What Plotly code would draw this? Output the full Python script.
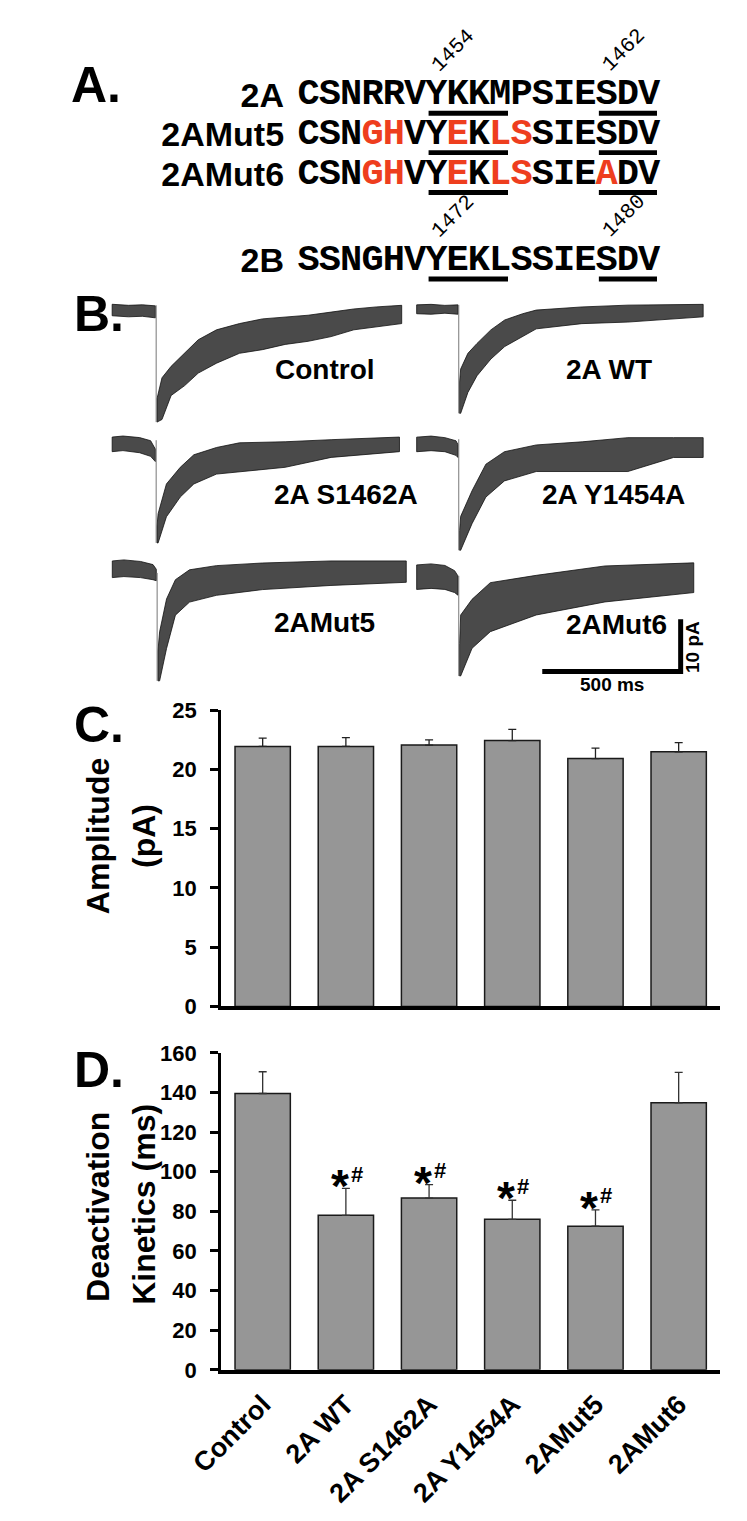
import plotly.graph_objects as go

# ---------------- data ----------------
categories = ["Control", "2A WT", "2A S1462A", "2A Y1454A", "2AMut5", "2AMut6"]
amp_mean = [21.95, 21.95, 22.07, 22.45, 20.93, 21.5]
amp_sem = [0.70, 0.75, 0.43, 0.95, 0.87, 0.78]
deact_mean = [139.5, 78.0, 86.7, 76.0, 72.5, 134.8]
deact_sem = [11.0, 13.6, 6.8, 9.6, 8.3, 15.4]
sig_star = ["", "*", "*", "*", "*", ""]
sig_hash = ["", "#", "#", "#", "#", ""]
amp_ticks = [0, 5, 10, 15, 20, 25]
deact_ticks = [0, 20, 40, 60, 80, 100, 120, 140, 160]

seq_names = ["2A", "2AMut5", "2AMut6", "2B"]
seq_text = ["CSNRRVYKKMPSIESDV", "CSNGHVYEKLSSIESDV", "CSNGHVYEKLSSIEADV", "SSNGHVYEKLSSIESDV"]
seq_mutated = [[], [3, 4, 7, 9, 10], [3, 4, 7, 9, 10, 14], []]
motif_spans = [(6, 10), (14, 17)]
residue_numbers = [["1454", "1462"], None, None, ["1472", "1480"]]
residue_index = [6, 14]

# current traces: envelope (upper/lower, pA) read at times (ms) relative to stimulus
trace_names = ["Control", "2A WT", "2A S1462A", "2A Y1454A", "2AMut5", "2AMut6"]
base_t = [
    [-159, -100, -50, -3],
    [-152, -100, -50, -3],
    [-159, -120, -60, -20, -3],
    [-152, -100, -50, -10, -3],
    [-162, -120, -60, -15, -3],
    [-152, -100, -50, -15, -3],
]
base_up = [
    [1.1, 0.9, 1.0, 0.8],
    [0.8, 0.9, 0.7, 0.8],
    [1.1, 1.3, 1.0, 0.4, -1.2],
    [0.9, 1.1, 0.8, 0.2, -0.5],
    [1.3, 1.5, 1.2, 0.6, -0.3],
    [1.1, 1.3, 1.0, 0.0, -1.0],
]
base_lo = [
    [-1.1, -1.3, -1.2, -1.5],
    [-0.9, -1.0, -0.8, -1.0],
    [-1.7, -1.5, -1.9, -2.6, -3.6],
    [-1.9, -1.7, -1.9, -2.6, -3.0],
    [-1.9, -1.7, -1.9, -2.3, -2.5],
    [-3.6, -3.4, -3.6, -4.2, -4.7],
]
decay_t = [
    [3, 21, 54, 103, 152, 218, 301, 384, 466, 549, 632, 714, 797, 887],
    [3, 7, 33, 66, 116, 166, 231, 280, 445, 611, 883],
    [3, 7, 37, 87, 136, 218, 301, 466, 632, 879],
    [3, 7, 48, 98, 165, 280, 446, 611, 776, 883],
    [3, 9, 34, 66, 117, 214, 380, 628, 900],
    [3, 7, 48, 114, 280, 528, 849],
]
decay_up = [
    [-17.0, -13.0, -10.8, -8.3, -5.7, -3.8, -2.6, -1.7, -1.3, -1.0, -0.4, 0.2, 0.6, 0.9],
    [-14.0, -11.5, -8.5, -6.6, -4.0, -2.1, -0.9, -0.2, 0.4, 0.75, 0.9],
    [-16.0, -13.6, -7.9, -4.7, -2.3, -0.9, 0.0, 0.2, 0.6, 1.1],
    [-17.0, -14.3, -9.4, -4.3, -1.9, -0.6, 0.0, 0.8, 0.8, 0.8],
    [-16.0, -12.3, -6.0, -2.3, -0.4, 0.4, 0.9, 1.3, 1.3],
    [-14.0, -8.5, -5.5, -2.3, -0.9, 0.9, 1.5],
]
decay_lo = [
    [-21.5, -21.0, -16.4, -14.5, -12.1, -10.2, -8.3, -7.6, -6.6, -6.0, -5.1, -3.8, -3.2, -2.6],
    [-20.0, -20.0, -16.0, -12.8, -9.6, -7.2, -5.3, -3.8, -2.8, -2.5, -1.5],
    [-19.2, -19.2, -14.2, -10.4, -7.9, -6.0, -5.5, -4.7, -2.8, -1.7],
    [-20.8, -20.8, -15.7, -10.6, -7.5, -5.7, -5.7, -5.7, -3.0, -3.0],
    [-21.7, -21.7, -15.5, -9.1, -6.6, -5.3, -4.2, -3.4, -2.8],
    [-20.2, -20.2, -14.9, -11.7, -8.5, -6.0, -4.2],
]
artifact_top = [0.9, 0.8, 0.5, 0.5, -1.0, -1.0]
peak_pA = [-21.5, -20.0, -19.2, -20.8, -21.7, -20.2]
scale_ms = 500
scale_pA = 10

# ---------------- layout constants ----------------
W, H = 747, 1521
MS_PER_PX = 500 / 145.0
PX_PER_PA = 5.3
B_TOP, B_BOT = 280, 700
A_BOT = 290
trace_origin_px = [(128, 303), (445, 302), (128, 438), (445, 437), (129, 565), (445, 568)]
label_pos_px = [(305, 363), (602, 363), (327, 491), (607, 491), (304, 621), (610, 623)]
scalebar_corner_px = (677.5, 670.5)
row_base_px = [97.5, 137.5, 178, 266]
SEQ_X = 276.6
CW = 22.3
SEQ_FS = 37
LAB_FS = 34

def px_x(px):
    return px / W

def px_y(py):
    return 1 - py / H

def b_ms(px):
    return px * MS_PER_PX

def b_pa(py):
    return -(py - B_TOP) / PX_PER_PA

BOLD = "Liberation Sans, Arial, sans-serif"
NARROW = "Liberation Sans Narrow, Arial Narrow, Liberation Sans, Arial, sans-serif"
MONO = "Liberation Mono, Courier New, monospace"
RED = "rgb(238,62,30)"

fig = go.Figure()

# ---------------- panel C ----------------
fig.add_trace(go.Bar(
    x=categories, y=amp_mean, width=0.665, xaxis="x", yaxis="y",
    marker=dict(color="#969696", line=dict(color="#1a1a1a", width=1.5)),
    error_y=dict(type="data", array=amp_sem, arrayminus=[0] * 6, symmetric=False,
                 color="#222222", thickness=1.3, width=4),
    showlegend=False, hoverinfo="skip"))

# ---------------- panel D ----------------
fig.add_trace(go.Bar(
    x=categories, y=deact_mean, width=0.665, xaxis="x2", yaxis="y2",
    marker=dict(color="#969696", line=dict(color="#1a1a1a", width=1.5)),
    error_y=dict(type="data", array=deact_sem, arrayminus=[0] * 6, symmetric=False,
                 color="#333333", thickness=1.3, width=4),
    showlegend=False, hoverinfo="skip"))

# ---------------- panel B traces ----------------
for i in range(6):
    ox = b_ms(trace_origin_px[i][0])
    oy = b_pa(trace_origin_px[i][1])
    for ts, up, lo in ((base_t[i], base_up[i], base_lo[i]), (decay_t[i], decay_up[i], decay_lo[i])):
        xs = [ox + t for t in ts] + [ox + t for t in reversed(ts)] + [ox + ts[0]]
        ys = [oy + v for v in up] + [oy + v for v in reversed(lo)] + [oy + up[0]]
        fig.add_trace(go.Scatter(
            x=xs, y=ys, xaxis="x3", yaxis="y3", mode="lines", fill="toself",
            fillcolor="#4a4a4a", line=dict(color="#111111", width=0.8),
            showlegend=False, hoverinfo="skip"))
    fig.add_trace(go.Scatter(
        x=[ox, ox], y=[oy + artifact_top[i], oy + peak_pA[i]], xaxis="x3", yaxis="y3",
        mode="lines", line=dict(color="#777777", width=1), showlegend=False, hoverinfo="skip"))

# scale bar
cx, cy = b_ms(scalebar_corner_px[0]), b_pa(scalebar_corner_px[1])
fig.add_trace(go.Scatter(
    x=[cx - scale_ms, cx, cx], y=[cy, cy, cy + scale_pA], xaxis="x3", yaxis="y3",
    mode="lines", line=dict(color="black", width=5), showlegend=False, hoverinfo="skip"))

annotations = []
for i, name in enumerate(trace_names):
    lx, ly = label_pos_px[i]
    annotations.append(dict(text=name, x=px_x(lx), y=px_y(ly), xref="paper", yref="paper",
                            xanchor="center", yanchor="middle", showarrow=False,
                            font=dict(family=BOLD, size=28, color="black", weight="bold")))
annotations.append(dict(text=f"{scale_ms} ms", x=px_x(606), y=px_y(684), xref="paper", yref="paper",
                        xanchor="center", yanchor="middle", showarrow=False,
                        font=dict(family=BOLD, size=19, color="black", weight="bold")))
annotations.append(dict(text=f"{scale_pA} pA", x=px_x(690), y=px_y(646), xref="paper", yref="paper",
                        xanchor="center", yanchor="middle", showarrow=False, textangle=-90,
                        font=dict(family=BOLD, size=19, color="black", weight="bold")))

# ---------------- panel A (sequences, one text mark per residue) ----------------
shapes = []
for r, (nm, sq) in enumerate(zip(seq_names, seq_text)):
    base = row_base_px[r]
    xs = [SEQ_X + (k + 0.5) * CW for k in range(len(sq))]
    cols = [RED if k in seq_mutated[r] else "black" for k in range(len(sq))]
    fig.add_trace(go.Scatter(
        x=xs, y=[-(base - 0.35 * SEQ_FS)] * len(sq), text=list(sq), mode="text",
        textposition="middle center", xaxis="x4", yaxis="y4",
        textfont=dict(family=MONO, size=SEQ_FS, color=cols, weight="bold"),
        showlegend=False, hoverinfo="skip"))
    fig.add_trace(go.Scatter(
        x=[262], y=[-(base + 2 - 0.35 * LAB_FS)], text=[nm], mode="text",
        textposition="middle left", xaxis="x4", yaxis="y4",
        textfont=dict(family=BOLD, size=LAB_FS, color="black", weight="bold"),
        showlegend=False, hoverinfo="skip"))
    for (a, b) in motif_spans:
        shapes.append(dict(type="rect", xref="x4", yref="y4",
                           x0=SEQ_X + a * CW + 3, x1=SEQ_X + b * CW - 3,
                           y0=-(base + 8), y1=-(base + 3),
                           fillcolor="black", line=dict(width=0)))
    if residue_numbers[r]:
        for num, idx in zip(residue_numbers[r], residue_index):
            annotations.append(dict(text=num, x=SEQ_X + idx * CW - 1, y=-(base - 29),
                                    xref="x4", yref="y4", xanchor="left", yanchor="bottom",
                                    showarrow=False, textangle=-45,
                                    font=dict(family=MONO, size=21, color="black")))

# panel letters
for letter, (lx, ly) in zip(["A.", "B.", "C.", "D."], [(37, 74), (40, 307), (40, 725), (40, 1076)]):
    annotations.append(dict(text=letter, x=px_x(lx), y=px_y(ly), xref="paper", yref="paper",
                            xanchor="left", yanchor="middle", showarrow=False,
                            font=dict(family=BOLD, size=50, color="black", weight="bold")))

# axis titles
for txt, (tx, ty) in zip(["Amplitude", "(pA)"], [(67, 838), (115, 838)]):
    annotations.append(dict(text=txt, x=px_x(tx), y=px_y(ty), xref="paper", yref="paper",
                            xanchor="center", yanchor="middle", showarrow=False, textangle=-90,
                            font=dict(family=BOLD, size=32, color="black", weight="bold")))
for txt, (tx, ty) in zip(["Deactivation", "Kinetics (ms)"], [(67, 1215), (115, 1212)]):
    annotations.append(dict(text=txt, x=px_x(tx), y=px_y(ty), xref="paper", yref="paper",
                            xanchor="center", yanchor="middle", showarrow=False, textangle=-90,
                            font=dict(family=BOLD, size=32, color="black", weight="bold")))

# significance marks
for i in range(6):
    top = deact_mean[i] + deact_sem[i]
    if sig_star[i]:
        annotations.append(dict(text=sig_star[i], x=categories[i], y=top, xref="x2", yref="y2",
                                xanchor="center", yanchor="middle", showarrow=False,
                                xshift=-6, yshift=2,
                                font=dict(family=BOLD, size=46, color="black", weight="bold")))
    if sig_hash[i]:
        annotations.append(dict(text=sig_hash[i], x=categories[i], y=top, xref="x2", yref="y2",
                                xanchor="center", yanchor="middle", showarrow=False,
                                xshift=11, yshift=14,
                                font=dict(family=BOLD, size=22, color="black", weight="bold")))

X_DOM = [px_x(196), px_x(719)]
yax_common = dict(showgrid=False, zeroline=False, showline=True, linecolor="black", linewidth=3,
                  ticks="outside", ticklen=8, tickwidth=3, tickcolor="black",
                  tickfont=dict(family=NARROW, size=22, color="black", weight="bold"),
                  ticklabelstandoff=9)

fig.update_layout(
    width=W, height=H, margin=dict(l=0, r=0, t=0, b=0),
    paper_bgcolor="white", plot_bgcolor="rgba(0,0,0,0)", bargap=0.3,
    xaxis=dict(domain=X_DOM, anchor="y", range=[-0.5, 5.5], showticklabels=False, ticks="",
               showline=True, linecolor="black", linewidth=4, showgrid=False, zeroline=False),
    yaxis=dict(domain=[px_y(1011), px_y(710)], anchor="x", range=[0, 25], tickvals=amp_ticks,
               **yax_common),
    xaxis2=dict(domain=X_DOM, anchor="y2", range=[-0.5, 5.5], ticks="", tickangle=-45,
                tickfont=dict(family=BOLD, size=27, color="black", weight="bold"),
                ticklabelstandoff=4,
                showline=True, linecolor="black", linewidth=4, showgrid=False, zeroline=False),
    yaxis2=dict(domain=[px_y(1380.5), px_y(1058.3)], anchor="x2", range=[0, 160],
                tickvals=deact_ticks, **yax_common),
    xaxis3=dict(domain=[0, 1], anchor="y3", range=[0, W * MS_PER_PX], visible=False),
    yaxis3=dict(domain=[px_y(B_BOT), px_y(B_TOP)], anchor="x3",
                range=[b_pa(B_BOT), b_pa(B_TOP)], visible=False),
    xaxis4=dict(domain=[0, 1], anchor="y4", range=[0, W], visible=False),
    yaxis4=dict(domain=[px_y(A_BOT), 1], anchor="x4", range=[-A_BOT, 0], visible=False),
    annotations=annotations, shapes=shapes,
)

fig.write_html("out.html", config={"displayModeBar": False},
               post_script="document.body.style.margin='0px';")
